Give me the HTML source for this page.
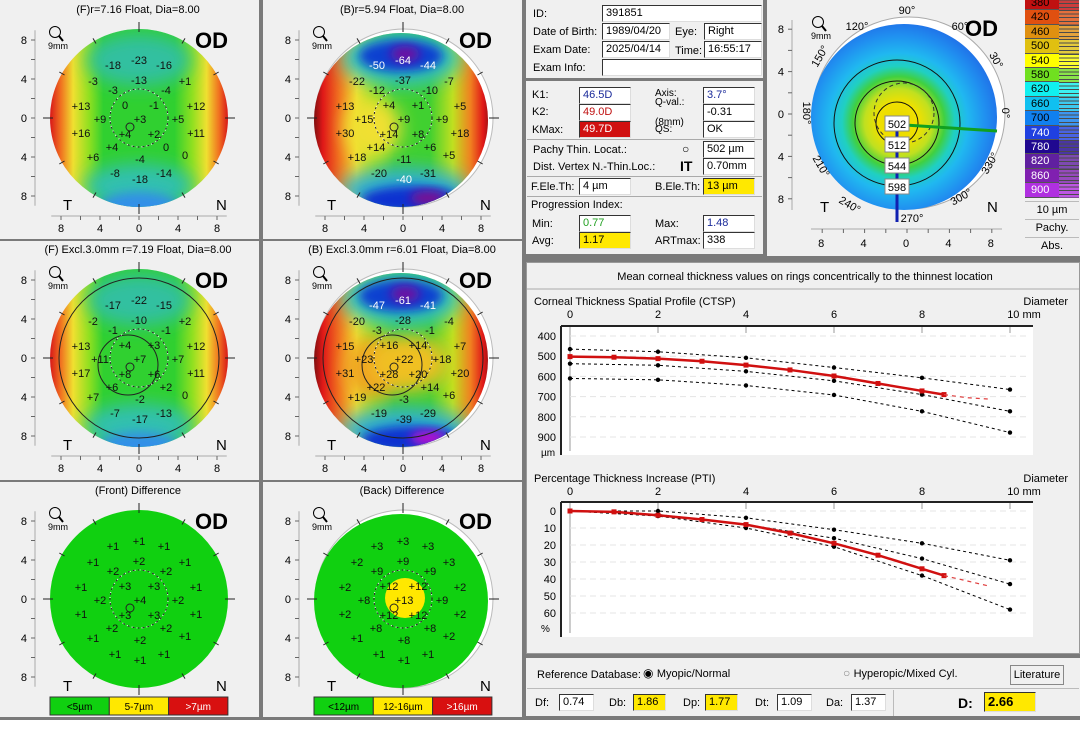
<!DOCTYPE html>
<html><head><meta charset="utf-8">
<style>
*{box-sizing:border-box}
body{margin:0;width:1080px;height:731px;overflow:hidden;background:#7a7a7a;font-family:"Liberation Sans",sans-serif;font-size:11px;color:#000;position:relative}
.p{position:absolute;background:#f0f0f0}
.t{position:absolute;white-space:nowrap}
.box{position:absolute;background:#fff;border:1px solid #333;border-right-color:#ddd;border-bottom-color:#ddd;padding-left:3px;line-height:15px;height:17px;white-space:nowrap}
</style></head><body>

<div class="p" style="left:0;top:0;width:259px;height:239px"></div>
<div class="p" style="left:263px;top:0;width:259px;height:239px"></div>
<div class="p" style="left:0;top:241px;width:259px;height:239px"></div>
<div class="p" style="left:263px;top:241px;width:259px;height:239px"></div>
<div class="p" style="left:0;top:482px;width:259px;height:235px"></div>
<div class="p" style="left:263px;top:482px;width:259px;height:235px"></div>
<div class="p" style="left:526px;top:0;width:237px;height:78px"></div>
<div class="p" style="left:526px;top:81px;width:237px;height:173px"></div>
<div class="p" style="left:767px;top:0;width:313px;height:256px"></div>
<div class="p" style="left:526px;top:262px;width:554px;height:392px;border:1px solid #999"></div>
<div class="p" style="left:526px;top:658px;width:554px;height:58px"></div>
<div class="p" style="left:0;top:720px;width:1080px;height:11px;background:#fff"></div>

<svg id="maps" width="1080" height="731" style="position:absolute;left:0;top:0">
<defs>
<filter id="bl" x="-50%" y="-50%" width="200%" height="200%"><feGaussianBlur stdDeviation="9"/></filter>
<filter id="bl2" x="-50%" y="-50%" width="200%" height="200%"><feGaussianBlur stdDeviation="5"/></filter>
<linearGradient id="gF" x1="0" x2="1" y1="0" y2="0">
<stop offset="0" stop-color="#d81818"/><stop offset="0.06" stop-color="#f07020"/><stop offset="0.13" stop-color="#f0e030"/><stop offset="0.22" stop-color="#90e020"/><stop offset="0.3" stop-color="#30d030"/><stop offset="0.7" stop-color="#30d030"/><stop offset="0.8" stop-color="#90e020"/><stop offset="0.88" stop-color="#f0e030"/><stop offset="0.95" stop-color="#f07020"/><stop offset="1" stop-color="#d81818"/></linearGradient>
<linearGradient id="gB" x1="0" x2="1" y1="0" y2="0">
<stop offset="0" stop-color="#801010"/><stop offset="0.05" stop-color="#e01818"/><stop offset="0.14" stop-color="#f07020"/><stop offset="0.24" stop-color="#f0e030"/><stop offset="0.34" stop-color="#90e020"/><stop offset="0.45" stop-color="#40d030"/><stop offset="0.65" stop-color="#40d030"/><stop offset="0.78" stop-color="#c0e020"/><stop offset="0.88" stop-color="#f08020"/><stop offset="0.95" stop-color="#e01818"/><stop offset="1" stop-color="#801010"/></linearGradient>
<radialGradient id="gP" cx="0.47" cy="0.53" r="0.55">
<stop offset="0" stop-color="#e8d800"/><stop offset="0.2" stop-color="#f0e000"/><stop offset="0.33" stop-color="#c0e020"/><stop offset="0.45" stop-color="#40d040"/><stop offset="0.55" stop-color="#20d0c0"/><stop offset="0.68" stop-color="#20b8f0"/><stop offset="0.85" stop-color="#2090f0"/><stop offset="1" stop-color="#2070e8"/></radialGradient>
</defs>
</svg>

<svg id="charts" width="1080" height="731" style="position:absolute;left:0;top:0"></svg>

<!-- patient info -->
<div class="t" style="left:533px;top:8px">ID:</div>
<div class="box" style="left:602px;top:5px;width:160px">391851</div>
<div class="t" style="left:533px;top:26px">Date of Birth:</div>
<div class="box" style="left:602px;top:23px;width:68px">1989/04/20</div>
<div class="t" style="left:675px;top:26px">Eye:</div>
<div class="box" style="left:704px;top:23px;width:58px">Right</div>
<div class="t" style="left:533px;top:44px">Exam Date:</div>
<div class="box" style="left:602px;top:41px;width:68px">2025/04/14</div>
<div class="t" style="left:675px;top:45px">Time:</div>
<div class="box" style="left:704px;top:41px;width:58px">16:55:17</div>
<div class="t" style="left:533px;top:62px">Exam Info:</div>
<div class="box" style="left:602px;top:59px;width:160px"></div>

<div class="t" style="left:532px;top:89px">K1:</div>
<div class="box" style="left:579px;top:87px;width:52px;color:#1a2a9a">46.5D</div>
<div class="t" style="left:532px;top:106px">K2:</div>
<div class="box" style="left:579px;top:104px;width:52px;color:#c01010">49.0D</div>
<div class="t" style="left:532px;top:124px">KMax:</div>
<div class="box" style="left:579px;top:121px;width:52px;background:#d01010;color:#fff">49.7D</div>
<div class="t" style="left:655px;top:88px;font-size:10px">Axis:</div>
<div class="box" style="left:703px;top:87px;width:52px;color:#1a2a9a">3.7°</div>
<div class="t" style="left:655px;top:98px;font-size:10px;line-height:10px">Q-val.:<br><br>(8mm)</div>
<div class="box" style="left:703px;top:104px;width:52px">-0.31</div>
<div class="t" style="left:655px;top:124px;font-size:10px">QS:</div>
<div class="box" style="left:703px;top:121px;width:52px">OK</div>
<div style="position:absolute;left:527px;top:139px;width:235px;border-top:1px solid #aaa"></div>
<div class="t" style="left:533px;top:144px">Pachy Thin. Locat.:</div>
<div class="t" style="left:682px;top:142px;font-size:12px">○</div>
<div class="box" style="left:703px;top:141px;width:52px">502 µm</div>
<div class="t" style="left:533px;top:161px">Dist. Vertex N.-Thin.Loc.:</div>
<div class="t" style="left:680px;top:158px;font-size:14px;font-weight:bold">IT</div>
<div class="box" style="left:703px;top:158px;width:52px">0.70mm</div>
<div style="position:absolute;left:527px;top:176px;width:235px;border-top:1px solid #aaa"></div>
<div class="t" style="left:531px;top:181px">F.Ele.Th:</div>
<div class="box" style="left:579px;top:178px;width:52px">4 µm</div>
<div class="t" style="left:655px;top:181px">B.Ele.Th:</div>
<div class="box" style="left:703px;top:178px;width:52px;background:#ffe800">13 µm</div>
<div style="position:absolute;left:527px;top:196px;width:235px;border-top:1px solid #aaa"></div>
<div class="t" style="left:531px;top:199px">Progression Index:</div>
<div class="t" style="left:532px;top:218px">Min:</div>
<div class="box" style="left:579px;top:215px;width:52px;color:#20a020">0.77</div>
<div class="t" style="left:532px;top:235px">Avg:</div>
<div class="box" style="left:579px;top:232px;width:52px;background:#ffe800">1.17</div>
<div class="t" style="left:655px;top:218px">Max:</div>
<div class="box" style="left:703px;top:215px;width:52px;color:#1a2a9a">1.48</div>
<div class="t" style="left:655px;top:235px">ARTmax:</div>
<div class="box" style="left:703px;top:232px;width:52px">338</div>

<!-- color scale -->
<div id="scale" style="position:absolute;left:1025px;top:0;width:54px;height:256px"></div>

<!-- reference db -->
<div class="t" style="left:537px;top:669px">Reference Database:</div>
<div class="t" style="left:643px;top:666px;font-size:12px">◉ <span style="font-size:11px">Myopic/Normal</span></div>
<div class="t" style="left:843px;top:666px;font-size:12px;color:#888">○ <span style="font-size:11px;color:#000">Hyperopic/Mixed Cyl.</span></div>
<div style="position:absolute;left:1010px;top:665px;width:54px;height:20px;border:1px solid #888;background:#f0f0f0;font-size:11px;text-align:center;line-height:18px">Literature</div>
<div style="position:absolute;left:527px;top:688px;width:552px;border-top:1px solid #bbb"></div>
<div class="t" style="left:535px;top:697px">Df:</div>
<div class="box" style="left:559px;top:694px;width:35px">0.74</div>
<div class="t" style="left:609px;top:697px">Db:</div>
<div class="box" style="left:633px;top:694px;width:33px;background:#ffe800">1.86</div>
<div class="t" style="left:683px;top:697px">Dp:</div>
<div class="box" style="left:705px;top:694px;width:33px;background:#ffe800">1.77</div>
<div class="t" style="left:755px;top:697px">Dt:</div>
<div class="box" style="left:777px;top:694px;width:35px">1.09</div>
<div class="t" style="left:826px;top:697px">Da:</div>
<div class="box" style="left:851px;top:694px;width:35px">1.37</div>
<div style="position:absolute;left:893px;top:690px;height:26px;border-left:1px solid #bbb"></div>
<div class="t" style="left:958px;top:695px;font-size:14px;font-weight:bold">D:</div>
<div class="box" style="left:984px;top:692px;width:52px;height:20px;background:#ffe800;font-weight:bold;font-size:13px;line-height:18px">2.66</div>

<script>
// ---------- chart data ----------
const ctspX = [0,1,2,3,4,5,6,7,8,8.5];
const ctspMean = [502,505,512,525,544,568,598,635,672,690];
const ctspExtX = [8.5,9,9.5];
const ctspExt = [690,705,712];
const normX = [0,2,4,6,8,10];
const ctspNorm1 = [465,478,508,556,607,665];
const ctspNorm2 = [537,545,575,622,690,773];
const ctspNorm3 = [610,617,645,692,773,878];
const ctspTicks = [400,500,600,700,800,900];
const ptiMean = [0,0.5,2.5,5,8,13,19,26,34,38];
const ptiExt = [38,41,44];
const ptiNorm1 = [0,0,4,11,19,29];
const ptiNorm2 = [0,2,8,16,28,43];
const ptiNorm3 = [0,3,10,21,38,58];
const ptiTicks = [0,10,20,30,40,50,60];
const xTicks = [0,2,4,6,8,10];

const NS='http://www.w3.org/2000/svg';
function mk(parent,tag,attrs,text){const e=document.createElementNS(NS,tag);for(const k in attrs)e.setAttribute(k,attrs[k]);if(text!==undefined)e.textContent=text;parent.appendChild(e);return e;}
const C=document.getElementById('charts');

mk(C,'line',{x1:527,y1:289,x2:1079,y2:289,stroke:'#aaa'});
let tt=mk(C,'text',{x:805,y:280,'text-anchor':'middle','font-size':11,'font-family':'Liberation Sans'},'Mean corneal thickness values on rings concentrically to the thinnest location');



function chart(name,title,top,frameTop,frameBot,yScale,ticks,unit,series,mean,meanX,ext,extX){
  const xs=v=>570+v*44;
  const g=mk(C,'g',{});
  
  
  mk(g,'text',{x:534,y:top,'font-size':11,'font-family':'Liberation Sans'},title);
  mk(g,'text',{x:1068,y:top,'font-size':11,'font-family':'Liberation Sans','text-anchor':'end'},'Diameter');
  xTicks.forEach(v=>{mk(g,'text',{x:xs(v),y:top+13,'font-size':11,'font-family':'Liberation Sans','text-anchor':'middle'},v===10?'10  mm':String(v)).setAttribute('dx',v===10?14:0);});
  mk(g,'rect',{x:561,y:frameTop,width:472,height:frameBot-frameTop,fill:'#fff'});
  mk(g,'line',{x1:561,y1:frameTop,x2:1033,y2:frameTop,stroke:'#222','stroke-width':2});
  mk(g,'line',{x1:561,y1:frameTop,x2:561,y2:frameBot,stroke:'#222','stroke-width':2});
  mk(g,'line',{x1:570,y1:frameTop+4,x2:570,y2:frameBot-4,stroke:'#999'});
  xTicks.forEach(v=>mk(g,'line',{x1:xs(v),y1:frameTop+1,x2:xs(v),y2:frameTop+7,stroke:'#999'}));
  ticks.forEach(v=>{
    const y=yScale(v);
    mk(g,'line',{x1:570,y1:y,x2:1030,y2:y,stroke:'#e4e4e4','stroke-dasharray':'6,4'});
    mk(g,'text',{x:556,y:y+4,'font-size':11,'font-family':'Liberation Sans','text-anchor':'end'},String(v));
  });
  mk(g,'text',{x:541,y:yScale(ticks[ticks.length-1])+19,'font-size':10,'font-family':'Liberation Sans'},unit);
  series.forEach((s,si)=>{
    const pts=normX.map((x,i)=>xs(x)+','+yScale(s[i])).join(' ');
    const pl=mk(g,'polyline',{points:pts,fill:'none',stroke:'#000','stroke-dasharray':'3,3'});
    
    normX.forEach((x,i)=>mk(g,'circle',{cx:xs(x),cy:yScale(s[i]),r:2.2,fill:'#000'}));
  });
  const pm=mk(g,'polyline',{points:meanX.map((x,i)=>xs(x)+','+yScale(mean[i])).join(' '),fill:'none',stroke:'#d01010','stroke-width':2.5});
  
  meanX.forEach((x,i)=>mk(g,'rect',{x:xs(x)-2.5,y:yScale(mean[i])-2.5,width:5,height:5,fill:'#d01010'}));
  mk(g,'polyline',{points:extX.map((x,i)=>xs(x)+','+yScale(ext[i])).join(' '),fill:'none',stroke:'#e04040','stroke-width':1.2,'stroke-dasharray':'4,4'});
}
chart('ctsp-chart','Corneal Thickness Spatial Profile (CTSP)',305,326,455,v=>336+(v-400)*0.202,ctspTicks,'µm',[ctspNorm1,ctspNorm2,ctspNorm3],ctspMean,ctspX,ctspExt,ctspExtX);
chart('pti-chart','Percentage Thickness Increase (PTI)',482,502,637,v=>511+v*1.7,ptiTicks,'%',[ptiNorm1,ptiNorm2,ptiNorm3],ptiMean,ctspX,ptiExt,ctspExtX);

// ---------- maps ----------
const M=document.getElementById('maps');
const pos=[[0,-58],[-26,-53],[25,-53],[-46,-37],[0,-38],[46,-37],[-26,-28],[27,-28],[-14,-13],[15,-13],[-58,-12],[57,-12],[-39,1],[1,1],[39,1],[-58,15],[-14,16],[15,16],[57,15],[-27,29],[27,29],[-46,39],[1,41],[46,37],[-24,55],[1,61],[25,55]];
const vF=['-23','-18','-16','-3','-13','+1','-3','-4','0','-1','+13','+12','+9','+3','+5','+16','+4','+2','+11','+4','0','+6','-4','0','-8','-18','-14'];
const vB=['-64','-50','-44','-22','-37','-7','-12','-10','+4','+1','+13','+5','+15','+9','+9','+30','+14','+8','+18','+14','+6','+18','-11','+5','-20','-40','-31'];
const vFE=['-22','-17','-15','-2','-10','+2','-1','-1','+4','+3','+13','+12','+11','+7','+7','+17','+8','+6','+11','+6','+2','+7','-2','0','-7','-17','-13'];
const vBE=['-61','-47','-41','-20','-28','-4','-3','-1','+16','+14','+15','+7','+23','+22','+18','+31','+28','+20','+20','+22','+14','+19','-3','+6','-19','-39','-29'];
const vFD=['+1','+1','+1','+1','+2','+1','+2','+2','+3','+3','+1','+1','+2','+4','+2','+1','+3','+3','+1','+2','+2','+1','+2','+1','+1','+1','+1'];
const vBD=['+3','+3','+3','+2','+9','+3','+9','+9','+12','+12','+2','+2','+8','+13','+9','+2','+12','+12','+2','+8','+8','+1','+8','+2','+1','+1','+1'];

function axes(g,cx,cy,ax,ay,step,ticks,tl,tr){
  mk(g,'line',{x1:ax,y1:cy-step*9,x2:ax,y2:cy+step*9,stroke:'#aaa'});
  for(let k=-8;k<=8;k+=2)mk(g,'line',{x1:ax-4,y1:cy+k*step,x2:ax,y2:cy+k*step,stroke:'#666'});
  [8,4,0,4,8].forEach((v,i)=>mk(g,'text',{x:ax-8,y:cy+(i-2)*4*step+4,'font-size':11,'text-anchor':'end','font-family':'Liberation Sans'},String(v)));
  mk(g,'line',{x1:cx-step*9,y1:ay,x2:cx+step*9,y2:ay,stroke:'#aaa'});
  for(let k=-8;k<=8;k+=2)mk(g,'line',{x1:cx+k*step,y1:ay,x2:cx+k*step,y2:ay+4,stroke:'#666'});
  [8,4,0,4,8].forEach((v,i)=>mk(g,'text',{x:cx+(i-2)*4*step,y:ay+16,'font-size':11,'text-anchor':'middle','font-family':'Liberation Sans'},String(v)));
  mk(g,'text',{x:tl,y:cy+92,'font-size':15,'font-family':'Liberation Sans'},'T');
  mk(g,'text',{x:tr,y:cy+92,'font-size':15,'font-family':'Liberation Sans'},'N');
}
function deco(g,cx,cy,px){
  mk(g,'text',{x:cx+56,y:cy-70,'font-size':22,'font-weight':'bold','font-family':'Liberation Sans'},'OD');
  mk(g,'circle',{cx:px+7,cy:cy-86,r:5.5,fill:'none',stroke:'#000'});
  mk(g,'line',{x1:px+11,y1:cy-82,x2:px+15,y2:cy-77,stroke:'#000','stroke-width':2});
  mk(g,'text',{x:px,y:cy-69,'font-size':9,'font-family':'Liberation Sans'},'9mm');
}
function map(name,cx,cy,title,kind,vals,whiteIdx,extraCircle){
  const g=mk(M,'g',{});
  
  
  mk(g,'text',{x:cx-1,y:cy-105,'font-size':11,'text-anchor':'middle','font-family':'Liberation Sans'},title);
  axes(g,cx,cy,cx-104,cy+98,9.75,0,cx-76,cx+77);
  const id='c'+name;
  const cp=mk(M.querySelector('defs'),'clipPath',{id:id});
  if(kind==='F'||kind==='FD'){mk(cp,'circle',{cx:cx,cy:cy,r:89});}
  else{mk(g,'circle',{cx:cx+1,cy:cy,r:89,fill:'#fff',stroke:'#bbb'});mk(cp,'circle',{cx:cx-2,cy:cy+2,r:87});}
  const m=mk(g,'g',{'clip-path':'url(#'+id+')'});
  if(kind==='F'){
    mk(m,'rect',{x:cx-89,y:cy-89,width:178,height:178,fill:'url(#gF)'});
    mk(m,'ellipse',{cx:cx,cy:cy-58,rx:52,ry:26,fill:'#30c0a0',filter:'url(#bl)'});
    mk(m,'ellipse',{cx:cx,cy:cy+68,rx:55,ry:22,fill:'#30c0b0',filter:'url(#bl)'});
    mk(m,'ellipse',{cx:cx,cy:cy+88,rx:40,ry:14,fill:'#3090e8',filter:'url(#bl2)'});
  } else if(kind==='B'){
    mk(m,'rect',{x:cx-89,y:cy-89,width:178,height:178,fill:'url(#gB)'});
    mk(m,'ellipse',{cx:cx-30,cy:cy+10,rx:28,ry:30,fill:extraCircle?'#f0a020':'#f0e030',filter:'url(#bl)'});
    if(extraCircle)mk(m,'ellipse',{cx:cx+5,cy:cy+5,rx:40,ry:28,fill:'#f0c020',filter:'url(#bl)'});
    mk(m,'ellipse',{cx:cx-2,cy:cy-60,rx:60,ry:28,fill:'#30c0c0',filter:'url(#bl)'});
    mk(m,'ellipse',{cx:cx-2,cy:cy-62,rx:42,ry:16,fill:'#1040d0',filter:'url(#bl2)'});
    mk(m,'ellipse',{cx:cx+2,cy:cy-64,rx:15,ry:8,fill:'#7010a0',filter:'url(#bl2)'});
    mk(m,'ellipse',{cx:cx+2,cy:cy+72,rx:65,ry:22,fill:'#30b0d0',filter:'url(#bl)'});
    mk(m,'ellipse',{cx:cx+8,cy:cy+82,rx:50,ry:14,fill:'#1030d0',filter:'url(#bl2)'});
    mk(m,'ellipse',{cx:cx+25,cy:cy+80,rx:18,ry:7,fill:extraCircle?'#c010d0':'#801090',filter:'url(#bl2)'});
  } else {
    mk(m,'rect',{x:cx-89,y:cy-89,width:178,height:178,fill:'#10d010'});
    if(kind==='BD')mk(m,'circle',{cx:cx+2,cy:cy-1,r:20,fill:'#ffe800'});
  }
  if(extraCircle){
    mk(g,'circle',{cx:cx,cy:cy,r:80,fill:'none',stroke:'#222'});
    mk(g,'circle',{cx:cx-11,cy:cy+7,r:30,fill:'none',stroke:'#222'});
  }
  mk(g,'circle',{cx:cx,cy:cy,r:29,fill:'none',stroke:'#fff','stroke-dasharray':'3,2'});
  mk(g,'circle',{cx:cx,cy:cy,r:29,fill:'none',stroke:'#222','stroke-dasharray':'2,3'});
  mk(g,'circle',{cx:cx-9,cy:cy+9,r:4,fill:'none',stroke:'#222'});
  for(let a=0;a<360;a+=30){const r=a*Math.PI/180;mk(g,'line',{x1:cx+Math.cos(r)*86,y1:cy+Math.sin(r)*86,x2:cx+Math.cos(r)*(a%90===0?96:92),y2:cy+Math.sin(r)*(a%90===0?96:92),stroke:'#222'});}
  pos.forEach((p,i)=>{
    mk(g,'text',{x:cx+p[0],y:cy+p[1]+4,'font-size':11,'text-anchor':'middle','font-family':'Liberation Sans',fill:whiteIdx.includes(i)?'#fff':'#111'},vals[i]);
  });
  deco(g,cx,cy,cx-91);
  if(kind==='FD'||kind==='BD'){
    const labs=kind==='FD'?['<5µm','5-7µm','>7µm']:['<12µm','12-16µm','>16µm'];
    const cols=['#10d010','#ffe800','#d81010'];
    labs.forEach((l,i)=>{
      const x=cx-89+i*59.3;
      const r=mk(g,'rect',{x:x,y:cy+98,width:59.3,height:18,fill:cols[i],stroke:'#333'});
      
      mk(g,'text',{x:x+29.6,y:cy+111,'font-size':10,'text-anchor':'middle','font-family':'Liberation Sans',fill:i===2?'#fff':'#000'},l);
    });
  }
}
map('front-float-map',139,118,'(F)r=7.16 Float, Dia=8.00','F',vF,[],false);
map('back-float-map',403,118,'(B)r=5.94 Float, Dia=8.00','B',vB,[0,1,2,25],false);
map('front-excl-map',139,358,'(F) Excl.3.0mm  r=7.19 Float, Dia=8.00','F',vFE,[],true);
map('back-excl-map',403,358,'(B) Excl.3.0mm  r=6.01 Float, Dia=8.00','B',vBE,[0,1,2],true);
map('front-diff-map',139,599,'(Front) Difference','FD',vFD,[],false);
map('back-diff-map',403,599,'(Back) Difference','BD',vBD,[],false);

// pachymetry map
(function(){
  const cx=907,cy=114,s=10.6;
  const g=mk(M,'g',{});
  
  
  mk(g,'line',{x1:792,y1:20,x2:792,y2:210,stroke:'#aaa'});
  [8,4,0,4,8].forEach((v,i)=>mk(g,'text',{x:784,y:cy+(i-2)*4*s+4,'font-size':11,'text-anchor':'end','font-family':'Liberation Sans'},String(v)));
  for(let k=-8;k<=8;k+=2)mk(g,'line',{x1:788,y1:cy+k*s,x2:792,y2:cy+k*s,stroke:'#666'});
  mk(g,'line',{x1:811,y1:229,x2:1002,y2:229,stroke:'#aaa'});
  [8,4,0,4,8].forEach((v,i)=>mk(g,'text',{x:cx-1+(i-2)*4*s,y:247,'font-size':11,'text-anchor':'middle','font-family':'Liberation Sans'},String(v)));
  for(let k=-8;k<=8;k+=2)mk(g,'line',{x1:cx+k*s,y1:229,x2:cx+k*s,y2:233,stroke:'#666'});
  mk(g,'circle',{cx:cx+2,cy:cy-1,r:96,fill:'#fff',stroke:'#aaa'});
  mk(g,'circle',{cx:cx-3,cy:cy+3,r:93,fill:'url(#gP)'});
  mk(g,'circle',{cx:897,cy:123,r:21,fill:'none',stroke:'#111'});
  mk(g,'circle',{cx:897,cy:123,r:42,fill:'none',stroke:'#111'});
  mk(g,'circle',{cx:897,cy:123,r:63,fill:'none',stroke:'#111'});
  mk(g,'circle',{cx:904,cy:113,r:30,fill:'none',stroke:'#333','stroke-dasharray':'4,3'});
  mk(g,'line',{x1:897,y1:130,x2:897,y2:222,stroke:'#1020b0','stroke-width':3});
  mk(g,'line',{x1:905,y1:125,x2:997,y2:131,stroke:'#10a020','stroke-width':3});
  [['502',124],['512',145],['544',166],['598',187]].forEach(a=>{
    mk(g,'rect',{x:885,y:a[1]-8,width:24,height:15,fill:'#fff',stroke:'#888'});
    mk(g,'text',{x:897,y:a[1]+4,'font-size':11,'text-anchor':'middle','font-family':'Liberation Sans'},a[0]);
  });
  [['90°',907,14,0],['60°',960,30,0],['120°',857,30,0],['150°',823,58,-60],['30°',993,62,60],['0°',1002,113,90],['180°',803,113,90],['210°',818,168,60],['330°',993,165,-60],['240°',848,208,30],['300°',963,200,-30],['270°',912,222,0]].forEach(a=>{
    mk(g,'text',{x:a[1],y:a[2],'font-size':11,'text-anchor':'middle','font-family':'Liberation Sans',transform:'rotate('+a[3]+' '+a[1]+' '+a[2]+')'},a[0]);
  });
  mk(g,'text',{x:965,y:36,'font-size':22,'font-weight':'bold','font-family':'Liberation Sans'},'OD');
  mk(g,'circle',{cx:818,cy:22,r:5.5,fill:'none',stroke:'#000'});
  mk(g,'line',{x1:822,y1:26,x2:826,y2:31,stroke:'#000','stroke-width':2});
  mk(g,'text',{x:811,y:39,'font-size':9,'font-family':'Liberation Sans'},'9mm');
  mk(g,'text',{x:820,y:212,'font-size':15,'font-family':'Liberation Sans'},'T');
  mk(g,'text',{x:987,y:212,'font-size':15,'font-family':'Liberation Sans'},'N');
})();

// color scale
const scaleVals=[380,420,460,500,540,580,620,660,700,740,780,820,860,900];
const scaleCols=['#c01010','#e05010','#e09010','#e0c010','#ffff00','#70e020','#10f0f0','#10c0f0','#1080f0','#2040e0','#200890','#6020a0','#8020b0','#b030e0'];
const S=document.getElementById('scale');
scaleVals.forEach((v,i)=>{
  const d=document.createElement('div');
  
  
  d.style.cssText='position:absolute;left:0;top:'+(-4+i*14.4)+'px;width:34px;height:14.4px;background:'+scaleCols[i]+';color:'+(i>=9?'#fff':'#000')+';font-size:11px;line-height:14px;padding-left:6px;border-bottom:1px solid #555';
  d.textContent=v;
  S.appendChild(d);
  const h=document.createElement('div');
  h.style.cssText='position:absolute;left:34px;top:'+(-4+i*14.4)+'px;width:20px;height:14.4px;background:repeating-linear-gradient(#222 0 1px,'+scaleCols[i]+' 1px 3.6px);opacity:.8';
  S.appendChild(h);
});
[['10 µm',201,'scale-unit'],['Pachy.',219,'pachy-button'],['Abs.',237,'abs-button']].forEach(a=>{
  const d=document.createElement('div');
  
  
  d.style.cssText='position:absolute;left:0;top:'+a[1]+'px;width:54px;height:18px;border-top:1px solid #bbb;text-align:center;font-size:11px;line-height:17px;background:#f0f0f0';
  d.textContent=a[0];
  S.appendChild(d);
});
</script>
</body></html>
